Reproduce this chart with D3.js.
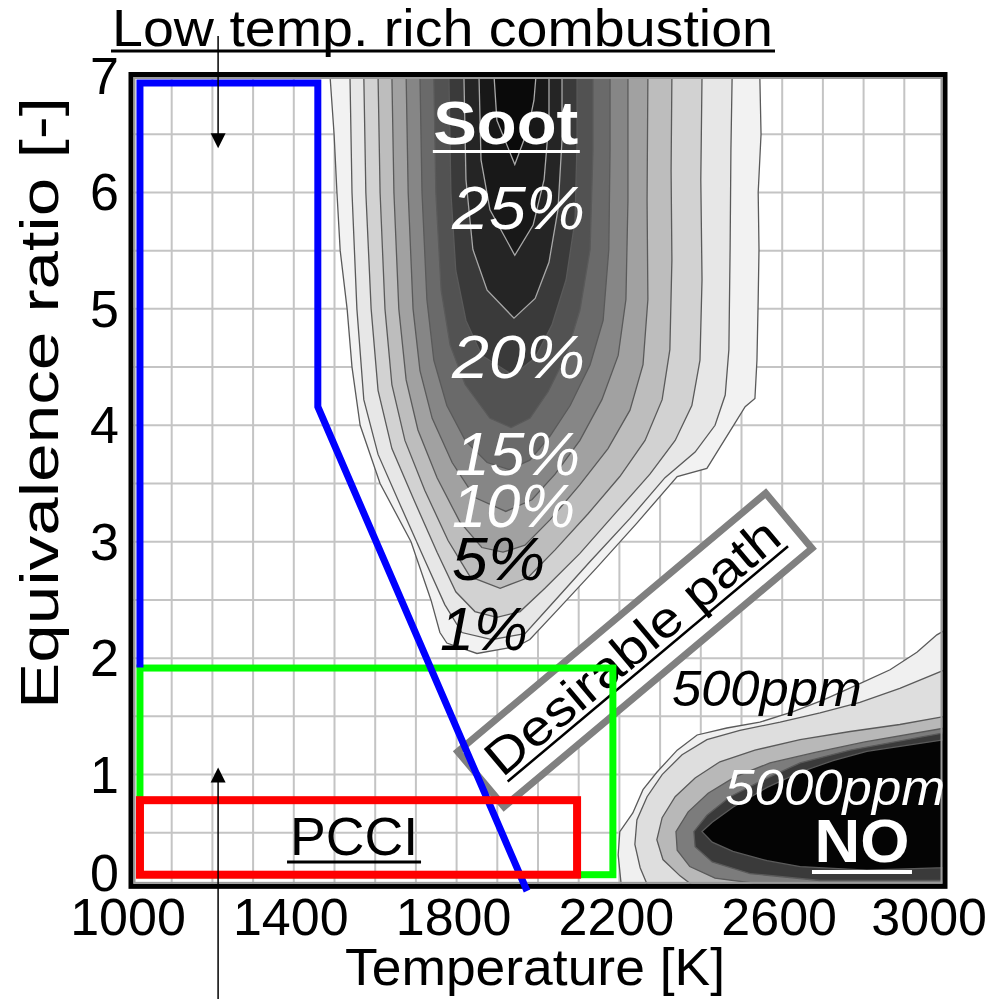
<!DOCTYPE html>
<html>
<head>
<meta charset="utf-8">
<title>Soot / NO map</title>
<script src="https://cdnjs.cloudflare.com/ajax/libs/d3/7.8.5/d3.min.js"></script>
<style>
    body { margin: 0; background: #fff; }
    svg { display: block; font-family: 'Liberation Sans', Arial, sans-serif; }
</style>
</head>
<body>
<div id="chart"></div>
<script>
// axis ticks
const tempTicks = [1000, 1400, 1800, 2200, 2600, 3000];
const phiTicks = [0, 1, 2, 3, 4, 5, 6, 7];

// soot contours [T, phi] (outer -> core)
const sootLevels = [0, 1, 3, 5, 8, 11, 14, 17, 20, 23, 26, 29];
const soot0 = [[1489,7],[1499,6.5],[1506,6],[1514,5.5],[1531,5],[1543,4.5],[1563,4],[1612,3.5],[1688,3],[1737,2.5],[1759,2.22],[1776,2.13],[1850,2.04],[1948,2.1],[1980,2.16],[2047,2.41],[2145,2.78],[2243,3.16],[2342,3.56],[2415,3.63],[2447,3.81],[2479,3.99],[2509,4.16],[2533,4.23],[2538,4.56],[2541,5.08],[2543,5.51],[2541,6],[2548,6.5],[2545,7]];
const soot1 = [[1538,7],[1543,6],[1555,5],[1572,4.22],[1607,3.75],[1661,3.32],[1722,2.84],[1771,2.46],[1813,2.22],[1887,2.16],[1968,2.21],[2030,2.45],[2128,2.83],[2226,3.2],[2312,3.55],[2386,3.77],[2435,4],[2460,4.26],[2469,4.65],[2472,5.51],[2474,6.36],[2477,7]];
const soot3 = [[1572,7],[1577,6],[1590,5],[1607,4.3],[1641,3.8],[1695,3.36],[1752,2.91],[1798,2.57],[1845,2.4],[1899,2.35],[1956,2.4],[2017,2.6],[2103,2.9],[2194,3.26],[2275,3.58],[2337,3.87],[2378,4.17],[2398,4.56],[2403,5.25],[2400,6.11],[2403,7]];
const soot5 = [[1607,7],[1612,6],[1624,5],[1641,4.35],[1673,3.87],[1722,3.44],[1779,3.01],[1833,2.7],[1907,2.6],[1975,2.69],[2042,2.93],[2123,3.24],[2201,3.56],[2263,3.87],[2305,4.22],[2324,4.65],[2329,5.42],[2327,6.19],[2329,7]];
const soot8 = [[1641,7],[1646,6],[1658,5],[1676,4.39],[1705,3.96],[1752,3.55],[1808,3.17],[1862,2.95],[1914,2.91],[1968,2.97],[2030,3.19],[2103,3.49],[2172,3.8],[2226,4.13],[2258,4.52],[2270,5.08],[2268,5.93],[2270,7]];
const soot11 = [[1676,7],[1681,6],[1693,5],[1710,4.47],[1740,4.06],[1789,3.68],[1845,3.38],[1921,3.26],[1985,3.36],[2042,3.58],[2103,3.87],[2157,4.22],[2197,4.6],[2216,5.08],[2221,5.93],[2221,7]];
const soot14 = [[1710,7],[1715,6],[1727,5.08],[1744,4.56],[1776,4.17],[1821,3.87],[1875,3.68],[1929,3.62],[1980,3.7],[2030,3.91],[2079,4.17],[2128,4.52],[2160,4.9],[2174,5.51],[2177,6.36],[2177,7]];
const soot17 = [[1744,7],[1749,6],[1762,5.16],[1784,4.69],[1821,4.35],[1882,4.06],[1934,3.98],[1980,4.06],[2025,4.29],[2069,4.6],[2103,4.99],[2128,5.51],[2135,6.36],[2135,7]];
const soot20 = [[1781,7],[1786,6],[1798,5.33],[1823,4.9],[1862,4.6],[1939,4.43],[1993,4.58],[2034,4.86],[2069,5.25],[2091,5.76],[2096,6.45],[2096,7]];
const soot23 = [[1818,7],[1823,6.11],[1840,5.51],[1875,5.16],[1941,4.92],[1993,5.09],[2027,5.4],[2049,5.85],[2059,6.45],[2059,7]];
const soot26 = [[1855,7],[1860,6.28],[1882,5.85],[1943,5.46],[1988,5.72],[2015,6.11],[2027,6.62],[2027,7]];
const soot29 = [[1892,7],[1899,6.62],[1943,6.24],[1975,6.54],[1990,6.79],[1995,7]];
const sootContours = [soot0, soot1, soot3, soot5, soot8, soot11, soot14, soot17, soot20, soot23, soot26, soot29];

// NO contours [T, phi] (500 ppm outer -> 5000 ppm core)
const no0 = [[2206,0],[2197,0.31],[2201,0.51],[2233,0.67],[2258,0.87],[2292,1.02],[2342,1.21],[2391,1.34],[2464,1.4],[2545,1.45],[2627,1.54],[2700,1.64],[2784,1.77],[2865,1.9],[2931,2.05],[2980,2.2],[3000,2.24],[3000,0]];
const no1 = [[2275,0],[2251,0.2],[2238,0.4],[2243,0.61],[2268,0.81],[2305,1.0],[2354,1.17],[2415,1.3],[2496,1.38],[2595,1.45],[2693,1.53],[2791,1.62],[2889,1.74],[3000,1.9],[3000,0]];
const no2 = [[2398,0],[2349,0.13],[2307,0.27],[2292,0.44],[2305,0.63],[2337,0.81],[2386,0.97],[2447,1.11],[2533,1.21],[2644,1.3],[2767,1.37],[2889,1.43],[3000,1.5],[3000,0]];
const no3 = [[2545,0.06],[2435,0.11],[2373,0.21],[2342,0.35],[2339,0.51],[2369,0.68],[2418,0.84],[2484,0.98],[2570,1.1],[2681,1.19],[2803,1.28],[3000,1.4],[3000,0.06]];
const no4 = [[2693,0.09],[2521,0.15],[2428,0.25],[2386,0.38],[2383,0.51],[2415,0.65],[2472,0.81],[2545,0.94],[2644,1.1],[2767,1.21],[3000,1.36],[3000,0.09]];
const no5 = [[3000,0.2],[2808,0.18],[2644,0.21],[2563,0.26],[2479,0.34],[2428,0.42],[2403,0.51],[2428,0.59],[2479,0.72],[2563,0.89],[2644,1.02],[2725,1.12],[2808,1.2],[3000,1.3]];
const noContours = [no0, no1, no2, no3, no4, no5];
const noColors = ['#f0f0f0', '#dedede', '#b8b8b8', '#7c7c7c', '#3a3a3a', '#040404'];

// regions
const lowTempRegion = [[1022,1.92],[1022,6.94],[1459,6.94],[1459,4.16],[1973,0]];
const wideBox = [[1022,0.14],[2184,1.915]];
const pcciBox = [[1022,0.14],[2096,0.78]];
const arrowT = 1214;
const arrowTips = [6.38, 1.06];
const pathBoxCenter = [2238, 2.07];

// labels
const sootLabels = ['25%', '20%', '15%', '10%', '5%', '1%'];
const sootLabelPos = [[1789,5.69],[1789,4.41],[1796,3.57],[1789,3.13],[1789,2.67],[1759,2.07]];
const sootLabelLen = [133, 133, 125, 123, 93, 88];

const W = 989, H = 999;
const x = d3.scaleLinear().domain([1000, 3000]).range([131, 945]);
const y = d3.scaleLinear().domain([0, 7]).range([891, 76]);
const phiBottom = 0.04;

const svg = d3.select('#chart').append('svg')
    .attr('width', W).attr('height', H);

svg.append('clipPath').attr('id', 'plotClip')
    .append('rect')
    .attr('x', x(1000)).attr('y', y(7))
    .attr('width', x(3000) - x(1000))
    .attr('height', y(phiBottom) - y(7));

const plot = svg.append('g').attr('clip-path', 'url(#plotClip)');

// grid
plot.append('g').selectAll('line')
    .data(x.ticks(20).filter(t => t > 1000 && t < 3000))
    .join('line')
    .attr('x1', d => x(d)).attr('x2', d => x(d))
    .attr('y1', y(7)).attr('y2', y(0))
    .attr('stroke', '#c4c4c4').attr('stroke-width', 2);
plot.append('g').selectAll('line')
    .data(y.ticks(14).filter(t => t > 0 && t < 7))
    .join('line')
    .attr('x1', x(1000)).attr('x2', x(3000))
    .attr('y1', d => y(d)).attr('y2', d => y(d))
    .attr('stroke', '#c4c4c4').attr('stroke-width', 2);

const line = d3.line().x(d => x(d[0])).y(d => y(d[1]));

// soot contours
const sootGray = d3.scaleLinear().domain([0, 5, 14, 22, 29])
    .range(['#f2f2f2', '#bdbdbd', '#6a6a6a', '#2a2a2a', '#0a0a0a']);
plot.append('g').selectAll('path')
    .data(sootContours)
    .join('path')
    .attr('d', d => line(d) + 'Z')
    .attr('fill', (d, i) => sootGray(sootLevels[i]))
    .attr('stroke', (d, i) => sootLevels[i] >= 23 ? '#a8a8a8' : '#5a5a5a')
    .attr('stroke-width', 1.3);

// NO contours
plot.append('g').selectAll('path')
    .data(noContours)
    .join('path')
    .attr('d', d => line(d) + 'Z')
    .attr('fill', (d, i) => noColors[i])
    .attr('stroke', '#5a5a5a')
    .attr('stroke-width', 1.3);

// frame
svg.append('rect')
    .attr('x', x(1000)).attr('y', y(7) - 1.5)
    .attr('width', x(3000) - x(1000))
    .attr('height', y(phiBottom) - y(7) + 1.5)
    .attr('fill', 'none').attr('stroke', '#000').attr('stroke-width', 5);
svg.append('rect')
    .attr('x', x(1000) + 3.5).attr('y', y(7) + 2)
    .attr('width', x(3000) - x(1000) - 7)
    .attr('height', y(phiBottom) - y(7) - 5.5)
    .attr('fill', 'none').attr('stroke', '#9a9a9a').attr('stroke-width', 2);

// desirable path box
const pb = svg.append('g')
    .attr('transform', `translate(${x(pathBoxCenter[0])},${y(pathBoxCenter[1])}) rotate(-40)`);
pb.append('rect')
    .attr('x', -201).attr('y', -36).attr('width', 402).attr('height', 72)
    .attr('fill', '#fff').attr('stroke', '#808080').attr('stroke-width', 7);
pb.append('text')
    .attr('x', 0).attr('y', 13)
    .attr('text-anchor', 'middle')
    .attr('font-size', 50)
    .attr('textLength', 368).attr('lengthAdjust', 'spacingAndGlyphs')
    .text('Desirable path');
pb.append('line')
    .attr('x1', -182).attr('x2', 184).attr('y1', 19).attr('y2', 19)
    .attr('stroke', '#000').attr('stroke-width', 2.5);

// strategy regions
svg.append('rect')
    .attr('x', x(wideBox[0][0])).attr('y', y(wideBox[1][1]))
    .attr('width', x(wideBox[1][0]) - x(wideBox[0][0]))
    .attr('height', y(wideBox[0][1]) - y(wideBox[1][1]))
    .attr('fill', 'none').attr('stroke', '#00ff00').attr('stroke-width', 7);
svg.append('path')
    .attr('d', line(lowTempRegion))
    .attr('fill', 'none').attr('stroke', '#0000ff').attr('stroke-width', 7);
svg.append('rect')
    .attr('x', x(pcciBox[0][0])).attr('y', y(pcciBox[1][1]))
    .attr('width', x(pcciBox[1][0]) - x(pcciBox[0][0]))
    .attr('height', y(pcciBox[0][1]) - y(pcciBox[1][1]))
    .attr('fill', 'none').attr('stroke', '#ff0000').attr('stroke-width', 8);

// arrows
const ax = x(arrowT);
svg.append('line').attr('x1', ax).attr('x2', ax).attr('y1', 36).attr('y2', y(arrowTips[0]) - 10)
    .attr('stroke', '#000').attr('stroke-width', 1.5);
svg.append('path')
    .attr('d', `M${ax},${y(arrowTips[0])} l-7.5,-15 l15,0 Z`).attr('fill', '#000');
svg.append('line').attr('x1', ax).attr('x2', ax).attr('y1', H).attr('y2', y(arrowTips[1]) + 10)
    .attr('stroke', '#000').attr('stroke-width', 1.5);
svg.append('path')
    .attr('d', `M${ax},${y(arrowTips[1])} l-7.5,15 l15,0 Z`).attr('fill', '#000');

// labels inside plot
function label(t, T, phi, opt) {
    const el = svg.append('text')
        .attr('x', x(T)).attr('y', y(phi))
        .attr('font-size', opt.size)
        .attr('fill', opt.fill || '#000')
        .attr('font-style', opt.italic ? 'italic' : 'normal')
        .attr('font-weight', opt.bold ? 'bold' : 'normal')
        .attr('text-anchor', opt.anchor || 'start')
        .text(t);
    if (opt.len) el.attr('textLength', opt.len).attr('lengthAdjust', 'spacingAndGlyphs');
    return el;
}
function underline(x1, x2, yy, color, w) {
    svg.append('line').attr('x1', x1).attr('x2', x2).attr('y1', yy).attr('y2', yy)
        .attr('stroke', color).attr('stroke-width', w);
}

label('Soot', 1921, 6.42, {size: 62, bold: true, fill: '#fff', anchor: 'middle', len: 145});
underline(x(1921) - 73, x(1921) + 74, y(6.42) + 8, '#fff', 3);

sootLabels.forEach((t, i) => {
    label(t, sootLabelPos[i][0], sootLabelPos[i][1], {
        size: 62, italic: true, fill: i < 4 ? '#fff' : '#000', len: sootLabelLen[i]
    });
});

label('500ppm', 2329, 1.59, {size: 50, italic: true, len: 190});
label('5000ppm', 2460, 0.74, {size: 50, italic: true, fill: '#fff', len: 220});
label('NO', 2796, 0.25, {size: 62, bold: true, fill: '#fff', anchor: 'middle', len: 95});
underline(x(2796) - 50, x(2796) + 50, y(0.25) + 10, '#fff', 4);
label('PCCI', 1548, 0.31, {size: 54, anchor: 'middle', len: 128});
underline(x(1548) - 67, x(1548) + 67, y(0.31) + 7, '#000', 3);

// title
svg.append('text')
    .attr('x', 112).attr('y', 46)
    .attr('font-size', 52)
    .attr('textLength', 661).attr('lengthAdjust', 'spacingAndGlyphs')
    .text('Low temp. rich combustion');
underline(111, 775, 51, '#000', 3);

// axes
svg.append('g').selectAll('text')
    .data(tempTicks)
    .join('text')
    .attr('x', d => d === 3000 ? 987 : x(d) - 3)
    .attr('y', 935)
    .attr('text-anchor', d => d === 3000 ? 'end' : 'middle')
    .attr('font-size', 52)
    .text(d => d);
svg.append('g').selectAll('text')
    .data(phiTicks)
    .join('text')
    .attr('x', 119)
    .attr('y', d => (d === 0 ? y(0) - 18 : y(d)) + 18)
    .attr('text-anchor', 'end')
    .attr('font-size', 52)
    .text(d => d);

svg.append('text')
    .attr('x', 535).attr('y', 985)
    .attr('text-anchor', 'middle')
    .attr('font-size', 52)
    .attr('textLength', 380).attr('lengthAdjust', 'spacingAndGlyphs')
    .text('Temperature [K]');
svg.append('text')
    .attr('transform', 'translate(58,403) rotate(-90)')
    .attr('text-anchor', 'middle')
    .attr('font-size', 54)
    .attr('textLength', 612).attr('lengthAdjust', 'spacingAndGlyphs')
    .text('Equivalence ratio [-]');
</script>
</body>
</html>
